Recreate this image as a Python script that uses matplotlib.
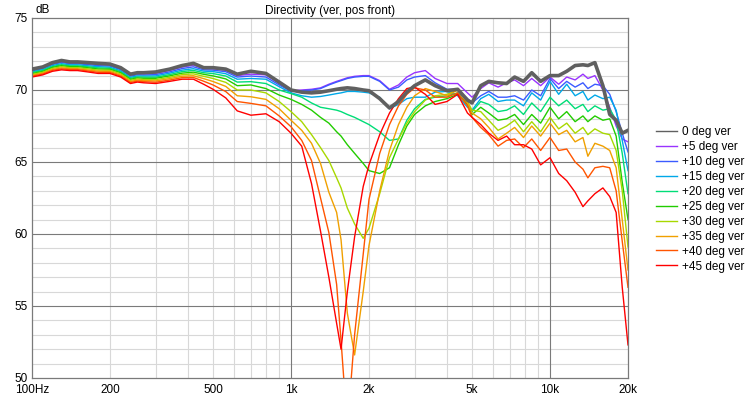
import matplotlib
matplotlib.use('Agg')
import matplotlib.pyplot as plt
from matplotlib.lines import Line2D
from matplotlib.ticker import NullLocator

plt.rcParams['font.family'] = ['Liberation Sans', 'DejaVu Sans']

# frequency points (Hz)
freqs = [100, 110, 120, 130, 140, 150, 165, 180, 200, 220,
         240, 255, 270, 300, 340, 380, 420, 460, 500, 560,
         620, 700, 800, 900, 1000, 1100, 1200, 1300, 1400, 1500,
         1560, 1650, 1760, 1900, 2000, 2200, 2400, 2600, 2800, 3000,
         3300, 3600, 4000, 4400, 4800, 5000, 5400, 5800, 6300, 6800,
         7300, 7900, 8500, 9200, 10000, 10800, 11600, 12500, 13400, 14000,
         14900, 16000, 17000, 18000, 19000, 20000]

# levels in dB, one list per angle
deg0 = [71.45, 71.6, 71.9, 72.05, 71.95, 71.95, 71.9, 71.85, 71.8, 71.55,
        71.1, 71.2, 71.2, 71.25, 71.45, 71.7, 71.85, 71.55, 71.55, 71.45,
        71.1, 71.3, 71.15, 70.55, 70.0, 69.85, 69.8, 69.85, 69.95, 70.05,
        70.1, 70.15, 70.1, 70.0, 69.95, 69.4, 68.75, 69.2, 69.85, 70.3,
        70.7, 70.3, 69.95, 70.05, 69.3, 69.1, 70.3, 70.6, 70.5, 70.45,
        70.9, 70.6, 71.2, 70.6, 71.0, 71.0, 71.3, 71.7, 71.75, 71.7,
        71.9, 70.3, 68.3, 67.9, 67.0, 67.2]
deg5 = [71.39, 71.54, 71.83, 71.98, 71.88, 71.88, 71.83, 71.77, 71.73, 71.48,
        71.03, 71.13, 71.12, 71.16, 71.36, 71.59, 71.73, 71.48, 71.47, 71.37,
        71.0, 71.1, 71.05, 70.45, 69.95, 70.0, 70.05, 70.15, 70.4, 70.6,
        70.7, 70.85, 70.95, 71.0, 71.0, 70.65, 70.05, 70.35, 70.9, 71.2,
        71.35, 70.8, 70.45, 70.45, 69.8, 69.5, 70.1, 70.5, 70.2, 70.5,
        70.7, 70.3, 70.8, 70.3, 70.9, 70.4, 70.9, 70.7, 71.1, 70.8,
        71.0, 70.0, 68.8, 67.5, 66.6, 66.4]
deg10 = [71.33, 71.48, 71.77, 71.91, 71.82, 71.82, 71.76, 71.69, 71.66, 71.41,
         70.96, 71.06, 71.04, 71.07, 71.26, 71.49, 71.61, 71.4, 71.38, 71.27,
         70.9, 70.97, 70.9, 70.35, 69.9, 69.95, 70.0, 70.1, 70.35, 70.55,
         70.65, 70.8, 70.9, 70.95, 70.95, 70.6, 70.0, 70.2, 70.7, 70.9,
         71.0, 70.5, 70.05, 70.05, 69.4, 69.1, 69.6, 69.9, 69.5, 69.5,
         69.6, 69.3, 70.0, 69.6, 70.8, 70.1, 70.6, 70.2, 70.5, 70.1,
         70.4, 70.3, 69.7, 68.5, 67.0, 65.7]
deg15 = [71.27, 71.42, 71.7, 71.83, 71.75, 71.75, 71.68, 71.62, 71.58, 71.33,
         70.88, 70.98, 70.97, 70.98, 71.17, 71.38, 71.48, 71.31, 71.28, 71.13,
         70.75, 70.8, 70.75, 70.23, 69.8, 69.6, 69.5, 69.55, 69.65, 69.75,
         69.8, 69.9, 69.9, 69.85, 69.8, 69.5, 68.7, 69.0, 69.4, 69.5,
         69.5, 69.85, 69.9, 69.6, 68.8, 68.6, 69.4, 69.7, 69.2, 69.3,
         69.3, 68.9, 69.8, 69.3, 70.6, 69.7, 70.4, 69.6, 69.9, 69.3,
         69.65, 69.4, 69.5, 68.6, 66.5, 64.4]
deg20 = [71.21, 71.36, 71.63, 71.76, 71.68, 71.68, 71.61, 71.54, 71.51, 71.26,
         70.81, 70.91, 70.89, 70.89, 71.07, 71.28, 71.36, 71.2, 71.14, 70.97,
         70.55, 70.58, 70.45, 70.0, 69.75, 69.5, 69.1, 68.8, 68.7, 68.6,
         68.5, 68.3, 68.1, 67.8, 67.6, 67.1, 66.5, 66.6, 67.9, 68.7,
         69.35, 69.5, 69.6, 69.8, 69.0, 68.5, 69.2, 69.0, 68.5, 68.6,
         68.9, 68.3, 69.1, 68.5, 69.5, 68.9, 69.3, 68.7, 69.0, 68.5,
         68.9, 68.6, 68.7, 67.9, 65.6, 62.8]
deg25 = [71.14, 71.29, 71.57, 71.69, 71.62, 71.62, 71.54, 71.46, 71.44, 71.19,
         70.74, 70.84, 70.81, 70.81, 70.98, 71.17, 71.24, 71.09, 70.98, 70.77,
         70.3, 70.35, 70.1, 69.65, 69.35, 69.0, 68.6, 68.1, 67.7, 67.1,
         66.8, 66.2, 65.6, 64.9, 64.4, 64.2, 64.6, 66.2, 67.5, 68.3,
         68.9, 69.2, 69.4, 69.7, 69.0, 68.3, 68.8, 68.4, 67.9, 68.0,
         68.3, 67.6, 68.3, 67.7, 68.8, 68.0, 68.5, 67.8, 68.2, 67.8,
         68.2, 67.9, 68.0, 66.8, 63.6, 61.0]
deg30 = [71.08, 71.23, 71.5, 71.62, 71.55, 71.55, 71.47, 71.38, 71.37, 71.12,
         70.67, 70.77, 70.73, 70.72, 70.88, 71.07, 71.12, 70.95, 70.8, 70.53,
         70.0, 70.0, 69.8, 69.2, 68.5, 67.8, 66.9, 66.0, 65.1, 63.9,
         63.2, 61.8, 60.7, 59.7, 60.4, 62.8, 65.3, 66.6, 67.7, 68.5,
         69.3, 69.6, 69.7, 70.0, 69.2, 68.6, 68.5, 67.9, 67.2, 67.5,
         67.9, 67.1, 67.8, 67.1, 68.1, 67.3, 67.7, 67.0, 67.4, 66.9,
         67.3, 67.0, 66.9, 65.8, 63.0, 59.1]
deg35 = [71.02, 71.17, 71.43, 71.54, 71.48, 71.48, 71.39, 71.31, 71.29, 71.04,
         70.59, 70.69, 70.66, 70.63, 70.79, 70.96, 70.99, 70.79, 70.59, 70.25,
         69.6, 69.53, 69.35, 68.7, 67.9, 67.2, 66.3, 64.9, 62.9, 61.5,
         59.6, 54.5, 51.6, 56.0, 59.2, 63.0, 65.8, 67.6, 68.8, 69.6,
         70.1, 69.9, 69.6, 70.0, 69.1, 68.4, 68.0, 67.4, 66.6, 67.0,
         67.4, 66.7, 67.5, 66.8, 67.7, 66.9, 67.2, 66.4, 66.7, 65.4,
         66.3, 66.1, 65.8, 64.6, 61.0, 57.5]
deg40 = [70.96, 71.11, 71.37, 71.47, 71.42, 71.42, 71.32, 71.23, 71.22, 70.97,
         70.52, 70.62, 70.58, 70.54, 70.69, 70.86, 70.87, 70.61, 70.35, 69.89,
         69.2, 69.07, 68.9, 68.2, 67.45, 66.5, 65.1, 62.5, 60.1, 56.5,
         52.6, 46.5, 53.0, 58.6, 62.4, 65.6, 67.6, 68.9, 69.7, 70.15,
         70.0, 69.5, 69.5, 69.8, 68.9, 68.1, 67.4, 66.9, 66.1, 66.5,
         66.6, 66.0, 66.6, 65.8, 66.7, 65.8, 65.9, 65.0, 64.5, 63.9,
         64.6, 64.7, 64.6, 63.0, 59.5, 56.3]
deg45 = [70.9, 71.05, 71.3, 71.4, 71.35, 71.35, 71.25, 71.15, 71.15, 70.9,
         70.45, 70.55, 70.5, 70.45, 70.6, 70.75, 70.75, 70.4, 70.05, 69.45,
         68.55, 68.25, 68.35, 67.8, 67.0, 66.1, 63.5, 60.2, 57.0, 53.8,
         52.0, 56.0, 59.8, 63.3, 64.8, 66.9, 68.4, 69.4, 70.1, 70.2,
         69.7, 69.0, 69.2, 69.7, 68.4, 68.1, 67.6, 67.0, 66.5, 66.8,
         66.2, 66.2, 65.9, 64.8, 65.3, 64.2, 63.7, 62.9, 61.9, 62.3,
         62.8, 63.2, 62.6, 61.5, 56.3, 52.3]

labels = ['0 deg ver', '+5 deg ver', '+10 deg ver', '+15 deg ver', '+20 deg ver',
          '+25 deg ver', '+30 deg ver', '+35 deg ver', '+40 deg ver', '+45 deg ver']
curves = [deg0, deg5, deg10, deg15, deg20, deg25, deg30, deg35, deg40, deg45]
colors = ['#606060', '#9933ff', '#3b5bff', '#00a8e8', '#00dd77',
          '#22cc00', '#a8d800', '#f0a000', '#ff5500', '#ff0000']

xticks = [100, 200, 500, 1000, 2000, 5000, 10000, 20000]
xticklabels = ['100Hz', '200', '500', '1k', '2k', '5k', '10k', '20k']

fig = plt.figure(figsize=(7.51, 3.98), dpi=100)
ax = fig.add_axes([32 / 751, 20 / 398, 596 / 751, 360 / 398])
ax.set_xscale('log')
ax.set_xlim(100, 20000)
ax.set_ylim(50, 75)

# grid: light every 1 dB / every multiple, dark every 5 dB / every decade
for dec in [100, 1000, 10000]:
    for m in range(2, 10):
        f = dec * m
        if f < 20000:
            ax.axvline(f, color='#d8d8d8', lw=0.8, zorder=0)
for f in [1000, 10000]:
    ax.axvline(f, color='#7a7a7a', lw=0.8, zorder=0.5)
for v in range(51, 75):
    c = '#7a7a7a' if v % 5 == 0 else '#d8d8d8'
    ax.axhline(v, color=c, lw=0.8, zorder=0.5 if v % 5 == 0 else 0)

# 画曲线
for vals, col in zip(curves[1:], colors[1:]):
    ax.plot(freqs, vals, color=col, lw=1.0, zorder=2)
ax.plot(freqs, deg0, color=colors[0], lw=2.6, zorder=3)

for s in ax.spines.values():
    s.set_color('#7a7a7a')
    s.set_linewidth(0.9)

ax.xaxis.set_minor_locator(NullLocator())
ax.set_xticks(xticks)
ax.set_xticklabels(xticklabels)
ax.set_yticks([50, 55, 60, 65, 70, 75])
ax.tick_params(length=0, labelsize=8.5)
ax.tick_params(axis='x', pad=4.5)
ax.tick_params(axis='y', pad=3)

ax.set_title('Directivity (ver, pos front)', fontsize=8.5, pad=3)
fig.text(36 / 751, 1 - 10 / 398, 'dB', fontsize=8.5, va='center', ha='left')

handles = [Line2D([0], [0], color=c, lw=1.0) for c in colors]
fig.legend(handles, labels, loc='upper left', bbox_to_anchor=(656 / 751, 1 - 126 / 398),
           frameon=False, fontsize=8.5, handlelength=1.8, handletextpad=0.4,
           labelspacing=0.25, borderaxespad=0, borderpad=0)

fig.savefig('out.png', dpi=100)
